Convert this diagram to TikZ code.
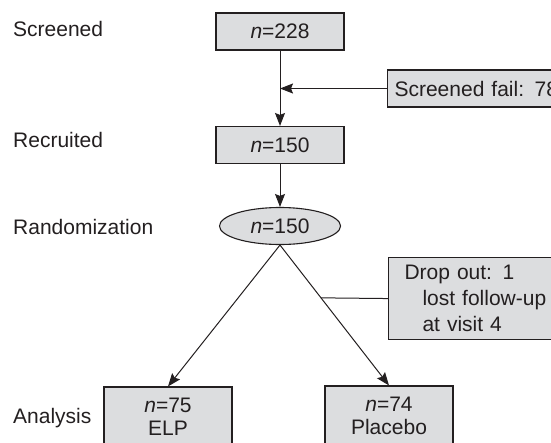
\documentclass[tikz,border=0pt]{standalone}
\usepackage{fontspec}
\setmainfont{Liberation Sans}
\usetikzlibrary{shapes.geometric,arrows.meta,calc}
\definecolor{boxfill}{HTML}{DCDDDF}
\definecolor{ink}{HTML}{231F20}
\begin{document}
\begin{tikzpicture}[x=1pt,y=-1pt,
  every node/.style={font=\fontsize{21}{23}\selectfont, text=ink},
  box/.style={draw=ink, line width=1.1pt, fill=boxfill, inner sep=0pt,
    minimum width=128pt, minimum height=37pt},
  oval/.style={ellipse, draw=ink, line width=1.1pt, fill=boxfill, inner sep=0pt,
    minimum width=121pt, minimum height=37pt},
  lbl/.style={anchor=west, inner sep=0pt},
  conn/.style={draw=ink, line width=1pt},
  arr/.style={conn, -{Stealth[length=13pt,width=10pt,inset=2pt]}}]
\useasboundingbox (0,0) rectangle (551,442);
\clip (0,0) rectangle (551,442);

% stage labels
\node[lbl] (lscr) at (13,29) {Screened};
\node[lbl] (lrec) at (13,140) {Recruited};
\node[lbl] (lran) at (13,227) {Randomization};
\node[lbl] (lana) at (13,418) {Analysis};

% main nodes
\node[box] (scr) at (280,31.5) {\textit{n}=228};
\node[box] (rec) at (280,145) {\textit{n}=150};
\node[oval] (rand) at (280,226) {\textit{n}=150};
\node[box, minimum height=60pt, align=center] (elp) at (168,417) {\textit{n}=75\\ELP};
\node[box, minimum height=60pt, align=center] (plc) at (389,416) {\textit{n}=74\\Placebo};

% side boxes
\node[box, anchor=west, text width=166pt, inner xsep=7pt, align=left] (fail) at (387,88.5) {Screened fail: 78};
\node[box, anchor=north west, text width=170pt, inner xsep=16pt, minimum height=82pt,
  align=left, font=\fontsize{21}{26}\selectfont] (drop) at (388,257)
  {Drop out: 1\\\hspace*{18pt}lost follow-up\\\hspace*{18pt}at visit 4};

% junctions
\coordinate (j1) at (scr.south |- fail.west);
\coordinate (j2) at ($(rand.south)!0.376!(plc.north)$);

% connectors
\draw[arr] (scr.south) -- (rec.north);
\draw[arr] (fail.west) -- (j1);
\draw[arr] (rec.south) -- (rand.north);
\draw[arr] (rand.south) -- (elp.north);
\draw[arr] (rand.south) -- (plc.north);
\draw[conn] (drop.west) -- (j2);
\end{tikzpicture}
\end{document}
